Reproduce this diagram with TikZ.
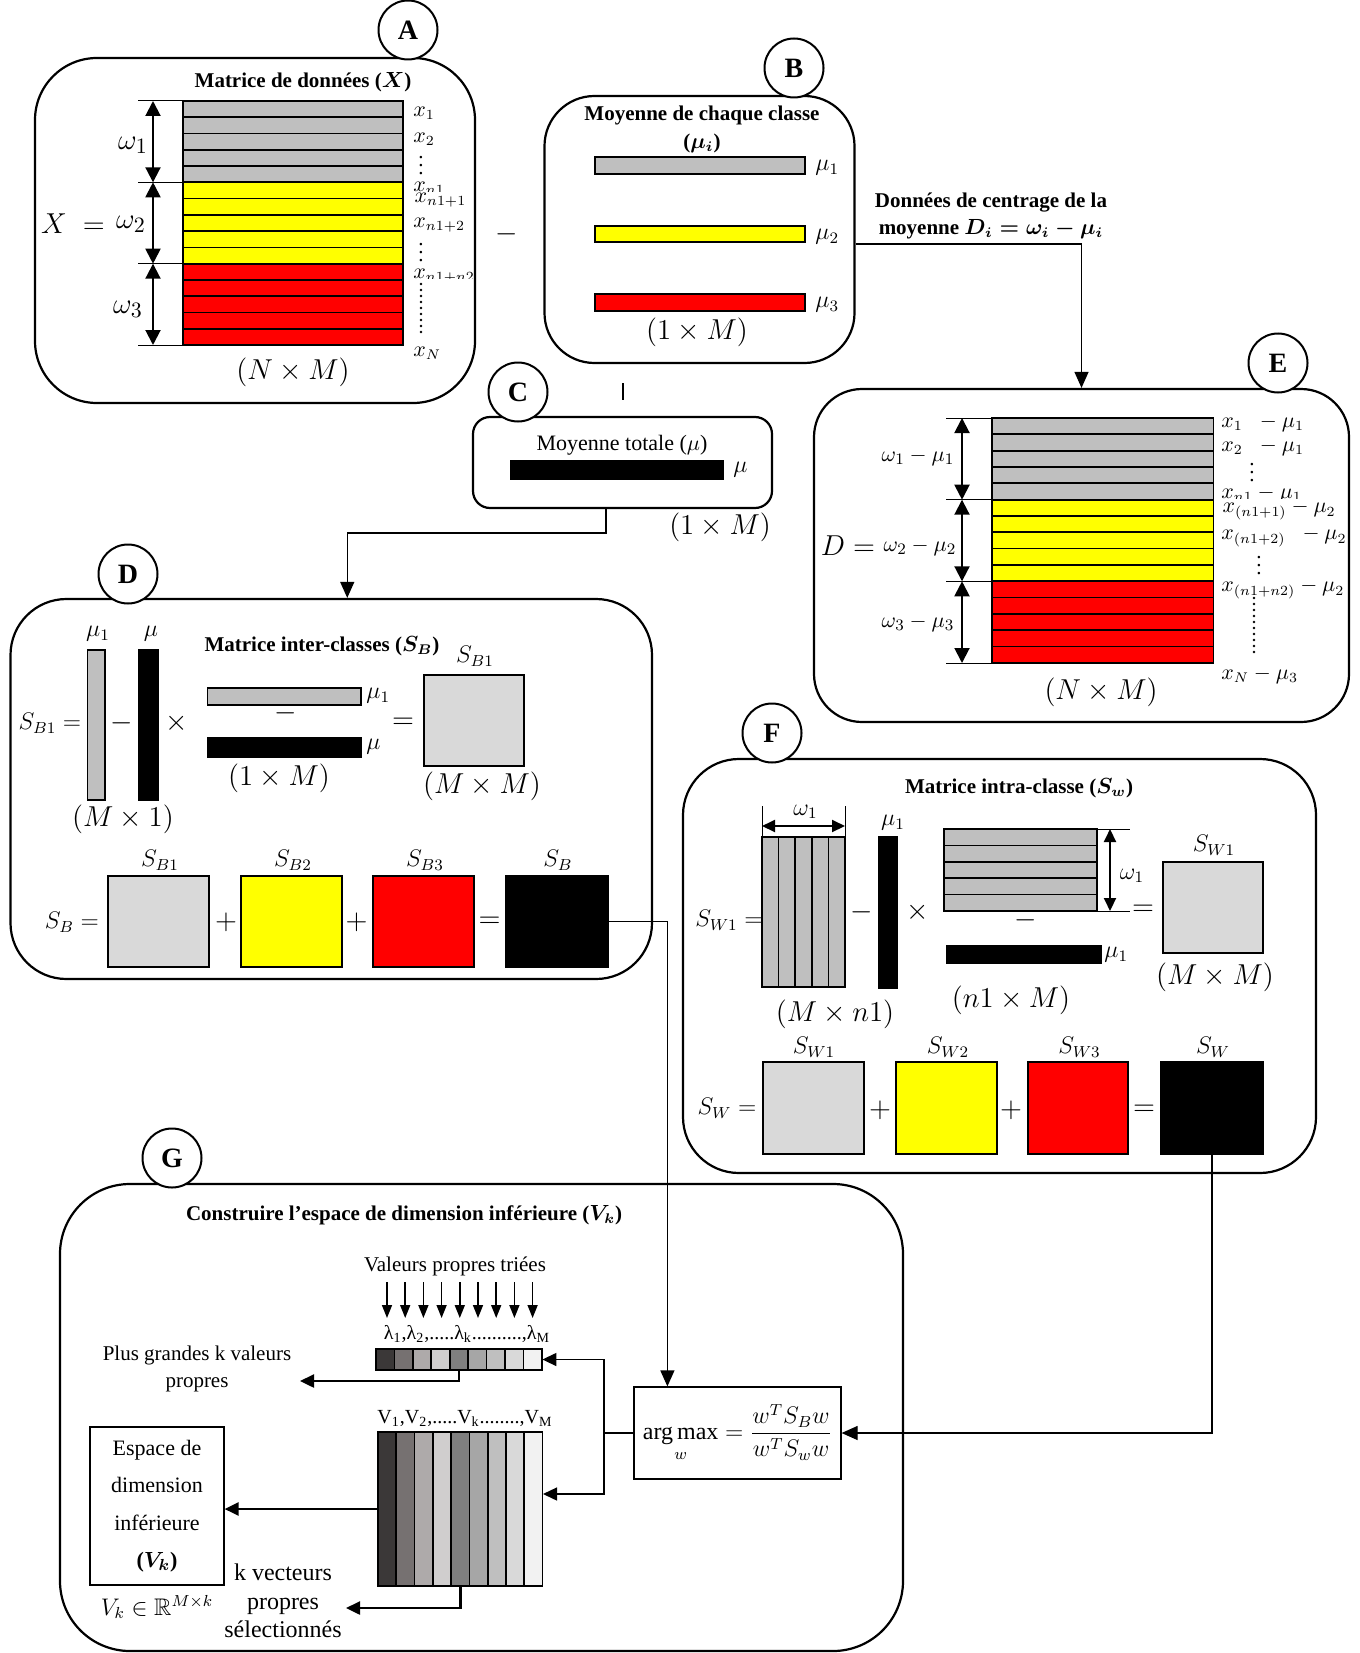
\documentclass[tikz,border=0pt]{standalone}
\usepackage{amsmath,amssymb}
\usepackage[no-math]{fontspec}
\setmainfont{Liberation Serif}
\usetikzlibrary{arrows.meta,fit,calc}

\definecolor{rowgray}{HTML}{BFBFBF}
\definecolor{sqgray}{HTML}{D9D9D9}
\definecolor{ylw}{HTML}{FFFF00}
\definecolor{rd}{HTML}{FF0000}
\definecolor{gA}{HTML}{3B3838}
\definecolor{gB}{HTML}{767171}
\definecolor{gC}{HTML}{AEAAAA}
\definecolor{gD}{HTML}{D0CECE}
\definecolor{gE}{HTML}{7F7F7F}
\definecolor{gF}{HTML}{A6A6A6}
\definecolor{gG}{HTML}{BFBFBF}
\definecolor{gH}{HTML}{D9D9D9}
\definecolor{gI}{HTML}{F2F2F2}

\newcommand\fsz[1]{\fontsize{#1}{#1}\selectfont}

\tikzset{
  panel/.style={draw, line width=1.1pt, rounded corners=#1, inner sep=0pt},
  panel/.default=30pt,
  badge/.style={circle, draw, line width=1pt, fill=white, minimum size=29.5pt, inner sep=0pt, font=\bfseries\fsz{14}},
  ttl/.style={inner sep=0pt, font=\bfseries\boldmath\fsz{10.5}, align=center},
  txt/.style={inner sep=0pt, font=\fsz{10.5}, align=center},
  mXL/.style={inner sep=0pt, font=\fsz{15}},
  mL/.style={inner sep=0pt, font=\fsz{14}},
  mM/.style={inner sep=0pt, font=\fsz{12}},
  mS/.style={inner sep=0pt, font=\fsz{10.5}},
  rowbox/.style={draw, line width=0.85pt},
  sqbox/.style={draw, line width=0.9pt, inner sep=0pt},
  dimline/.style={line width=0.5pt},
  dimarrow/.style={line width=1pt, {Triangle[width=7.5pt,length=7.5pt]}-{Triangle[width=7.5pt,length=7.5pt]}},
  smalldim/.style={line width=1pt, {Triangle[width=6pt,length=6.5pt]}-{Triangle[width=6pt,length=6.5pt]}},
  wire/.style={line width=0.6pt},
  conn/.style={line width=0.6pt, -{Triangle[width=7pt,length=8pt]}},
  gconn/.style={line width=1.2pt, -{Triangle[width=6.5pt,length=7pt]}},
  darrow/.style={line width=0.8pt, -{Triangle[width=5pt,length=6.5pt]}},
}

\begin{document}
\begin{tikzpicture}[x=0.5pt,y=-0.5pt]
\useasboundingbox (0,0) rectangle (1359,1653);

%% ================= A : data matrix
\node[panel=31pt, fit={(35,58) (475,403)}] (Apanel) {};
\node[badge] (Abadge) at (408,30) {A};
\node[ttl] (Atitle) at (303,82) {Matrice de données ($X$)};
\foreach \i in {0,...,4}
  \draw[rowbox, fill=rowgray] (183,{101+16.27*\i}) rectangle (403,{101+16.27*(\i+1)});
\foreach \i in {5,...,9}
  \draw[rowbox, fill=ylw] (183,{101+16.27*\i}) rectangle (403,{101+16.27*(\i+1)});
\foreach \i in {10,...,14}
  \draw[rowbox, fill=rd] (183,{101+16.27*\i}) rectangle (403,{101+16.27*(\i+1)});
\foreach \y in {101,182.3,263.7,345} \draw[dimline] (138,\y) -- (183,\y);
\draw[dimarrow] (153,101) -- (153,182.3);
\draw[dimarrow] (153,182.3) -- (153,263.7);
\draw[dimarrow] (153,263.7) -- (153,345);
\node[mXL] (Aw1) at (133,145) {$\omega_1$};
\node[mXL] (AX) at (73,224) {$X\;=$};
\node[mXL] (Aw2) at (131,224) {$\omega_2$};
\node[mXL] (Aw3) at (128,309) {$\omega_3$};
\node[mS, anchor=west] (Ax1) at (413,113) {$x_1$};
\node[mS, anchor=west] (Ax2) at (413,139) {$x_2$};
\node[mS] (Av1) at (421,160) {$\vdots$};
\node[mS, anchor=west] (Axn1) at (413,188) {$x_{n1}$};
\node[mS, anchor=west, fill=white, inner sep=0.6pt] (Axn11) at (413,200) {$x_{n1+1}$};
\node[mS, anchor=west] (Axn12) at (413,225) {$x_{n1+2}$};
\node[mS] (Av2) at (421,247) {$\vdots$};
\begin{scope}
  \clip (405,255) rectangle (480,278);
  \node[mS, anchor=west] (Axn1n2) at (413,276) {$x_{n1+n2}$};
\end{scope}
\foreach \y in {284,290,...,332} \fill (421,\y) circle (0.7pt);
\node[mS, anchor=west] (AxN) at (413,353) {$x_N$};
\node[mL] (Asize) at (293,372) {$(N\times M)$};

\node[mL] (AminusB) at (507,234) {$-$};

%% ================= B : class means
\node[panel=25pt, fit={(544.5,96) (854.5,363)}] (Bpanel) {};
\node[badge] (Bbadge) at (794,68) {B};
\node[ttl, font=\bfseries\boldmath\fontsize{10.5}{14}\selectfont] (Btitle) at (702,129) {Moyenne de chaque classe\\($\mu_i$)};
\node[sqbox, line width=1.1pt, fill=rowgray, fit={(595,157) (805,174)}] (mua) {};
\node[sqbox, line width=1.1pt, fill=ylw, fit={(595,226) (805,242)}] (mub) {};
\node[sqbox, line width=1.1pt, fill=rd, fit={(595,294) (805,311)}] (muc) {};
\node[mM, anchor=west] (Bmu1) at (815,168) {$\mu_1$};
\node[mM, anchor=west] (Bmu2) at (815,237) {$\mu_2$};
\node[mM, anchor=west] (Bmu3) at (815,305) {$\mu_3$};
\node[mL] (Bsize) at (697,332) {$(1\times M)$};

\node[ttl, font=\bfseries\boldmath\fontsize{10.5}{13.5}\selectfont] (Dlabel) at (991,216) {Données de centrage de la\\moyenne $D_i=\omega_i-\mu_i$};

%% ================= C : overall mean
\node[panel=8.5pt, fit={(473,417) (772,508)}] (Cpanel) {};
\node[badge] (Cbadge) at (518,392) {C};
\node[txt, font=\fsz{11}] (Ctitle) at (622,445) {Moyenne totale ($\mu$)};
\node[sqbox, fill=black, fit={(511,461) (723,479)}] (mubar) {};
\node[mM, anchor=west] (Cmu) at (733,470) {$\mu$};
\node[mL] (Csize) at (720,527) {$(1\times M)$};
\draw[wire] (623,383) -- (623,400);

%% ================= D : between-class scatter
\node[panel=28pt, fit={(10.5,599) (652,979)}] (Dpanel) {};
\node[badge] (Dbadge) at (128,574) {D};
\node[ttl] (Dtitle) at (322,646) {Matrice inter-classes ($S_B$)};
\node[sqbox, fill=rowgray, fit={(87.5,650) (105,800)}] (Dcola) {};
\node[sqbox, fill=black, fit={(139,650) (158,800)}] (Dcolb) {};
\node[mM] (Dmu1) at (98,634) {$\mu_1$};
\node[mM] (Dmu) at (151,634) {$\mu$};
\node[mM] (DSB1eq) at (50,723) {$S_{B1}=$};
\node[mL] (Dminus) at (122,723) {$-$};
\node[mL] (Dtimes) at (177,723) {$\times$};
\node[sqbox, fill=rowgray, fit={(207.5,688) (361,705)}] (Drowa) {};
\node[mL] (Dminusb) at (286,713) {$-$};
\node[sqbox, fill=black, fit={(207.5,738) (361,757)}] (Drowb) {};
\node[mM, anchor=west] (Dmu1b) at (366,696) {$\mu_1$};
\node[mM, anchor=west] (Dmub) at (366,747) {$\mu$};
\node[mL] (Drowsize) at (279,778) {$(1\times M)$};
\node[mL] (Deq) at (403,723) {$=$};
\node[sqbox, fill=sqgray, fit={(424,675) (524,766)}] (SBone) {};
\node[mM] (SBonelab) at (475,656) {$S_{B1}$};
\node[mL] (SBonesize) at (482,786) {$(M\times M)$};
\node[mL] (Dcolsize) at (123,819) {$(M\times 1)$};
\node[mM] (DSBeq) at (72,922) {$S_B=$};
\node[sqbox, fill=sqgray, fit={(108,876) (209,967)}] (SBa) {};
\node[sqbox, fill=ylw, fit={(241,876) (342,967)}] (SBb) {};
\node[sqbox, fill=rd, fit={(373,876) (474,967)}] (SBc) {};
\node[sqbox, fill=black, fit={(506,876) (608,967)}] (SB) {};
\node[mL] (Dplusa) at (226,922) {$+$};
\node[mL] (Dplusb) at (356.5,922) {$+$};
\node[mL] (Deqb) at (489.5,922) {$=$};
\node[mM] (SBalab) at (160,860) {$S_{B1}$};
\node[mM] (SBblab) at (293,860) {$S_{B2}$};
\node[mM] (SBclab) at (425,860) {$S_{B3}$};
\node[mM] (SBlab) at (558,860) {$S_B$};

%% ================= E : centred data
\node[panel=24pt, fit={(814,389) (1349,722)}] (Epanel) {};
\node[badge] (Ebadge) at (1278,363) {E};
\foreach \i in {0,...,4}
  \draw[rowbox, fill=rowgray] (992,{418+16.33*\i}) rectangle (1213.5,{418+16.33*(\i+1)});
\foreach \i in {5,...,9}
  \draw[rowbox, fill=ylw] (992,{418+16.33*\i}) rectangle (1213.5,{418+16.33*(\i+1)});
\foreach \i in {10,...,14}
  \draw[rowbox, fill=rd] (992,{418+16.33*\i}) rectangle (1213.5,{418+16.33*(\i+1)});
\foreach \y in {418,499.7,581.3,663} \draw[dimline] (946,\y) -- (992,\y);
\draw[dimarrow] (962,418) -- (962,499.7);
\draw[dimarrow] (962,499.7) -- (962,581.3);
\draw[dimarrow] (962,581.3) -- (962,663);
\node[mS, font=\fsz{11}] (Ew1) at (918,457) {$\omega_1-\mu_1$};
\node[mXL] (ED) at (848,546) {$D=$};
\node[mS, font=\fsz{11}] (Ew2) at (920,547) {$\omega_2-\mu_2$};
\node[mS, font=\fsz{11}] (Ew3) at (918,623) {$\omega_3-\mu_3$};
\node[mS, anchor=west] (Ex1) at (1221,423) {$x_1\;\;-\mu_1$};
\node[mS, anchor=west] (Ex2) at (1221,447) {$x_2\;\;-\mu_1$};
\node[mS] (Ev1) at (1252,467) {$\vdots$};
\node[mS, anchor=west] (Exn1) at (1221,494) {$x_{n1}-\mu_1$};
\node[mS, anchor=west, fill=white, inner sep=0.6pt] (Exn11) at (1221,510) {$x_{(n1+1)}-\mu_2$};
\node[mS, anchor=west] (Exn12) at (1221,537) {$x_{(n1+2)}\;\;-\mu_2$};
\node[mS] (Ev2) at (1259,560) {$\vdots$};
\node[mS, anchor=west] (Exn1n2) at (1221,589) {$x_{(n1+n2)}-\mu_2$};
\foreach \y in {598,604,...,652} \fill (1254,\y) circle (0.7pt);
\node[mS, anchor=west] (ExN) at (1221,675) {$x_N-\mu_3$};
\node[mL] (Esize) at (1101,692) {$(N\times M)$};

\draw[conn] ([yshift=-7.25pt]Bpanel.east) -| (Epanel.north);

%% ================= F : within-class scatter
\node[panel=28pt, fit={(683,759) (1316,1173)}] (Fpanel) {};
\node[badge] (Fbadge) at (772,733) {F};
\node[ttl] (Ftitle) at (1019,788) {Matrice intra-classe ($S_w$)};
\foreach \i in {0,...,4}
  \draw[rowbox, fill=rowgray] ({762+16.6*\i},837) rectangle ({762+16.6*(\i+1)},987);
\draw[dimline] (762,806) -- (762,837);
\draw[dimline] (845,806) -- (845,837);
\draw[smalldim] (762,826) -- (845,826);
\node[mM] (Fw1a) at (805.5,812) {$\omega_1$};
\node[mM] (Fmu1a) at (893,823) {$\mu_1$};
\node[sqbox, fill=black, fit={(879,837) (897,988)}] (Fcol) {};
\node[mM] (FSW1eq) at (729,920) {$S_{W1}=$};
\node[mL] (Fminus) at (861.5,912) {$-$};
\node[mL] (Ftimes) at (918,912) {$\times$};
\foreach \i in {0,...,4}
  \draw[rowbox, fill=rowgray] (944,{829+16.4*\i}) rectangle (1097,{829+16.4*(\i+1)});
\draw[dimline] (1097,829) -- (1130,829);
\draw[dimline] (1097,911) -- (1130,911);
\draw[smalldim] (1110,829) -- (1110,911);
\node[mM] (Fw1b) at (1132,876) {$\omega_1$};
\node[mL] (Fminusb) at (1026,920) {$-$};
\node[mL] (Feq) at (1143,910) {$=$};
\node[sqbox, fill=black, fit={(947,946) (1101,963)}] (Frow) {};
\node[mM, anchor=west] (Fmu1b) at (1104,955) {$\mu_1$};
\node[mL] (Frowsize) at (1011,1000) {$(n1\times M)$};
\node[mL] (Fcolsize) at (835,1014) {$(M\times n1)$};
\node[sqbox, fill=sqgray, fit={(1163,862) (1263,953)}] (SWone) {};
\node[mM] (SWonelab) at (1214,845) {$S_{W1}$};
\node[mL] (SWonesize) at (1215,977) {$(M\times M)$};
\node[mM] (FSWeq) at (727,1108) {$S_W=$};
\node[sqbox, fill=sqgray, fit={(762.6,1062) (863.6,1154)}] (SWa) {};
\node[sqbox, fill=ylw, fit={(896,1062) (997,1154)}] (SWb) {};
\node[sqbox, fill=rd, fit={(1028,1062) (1128,1154)}] (SWc) {};
\node[sqbox, fill=black, fit={(1161,1062) (1263,1154)}] (SW) {};
\node[mL] (Fplusa) at (880,1110) {$+$};
\node[mL] (Fplusb) at (1011,1110) {$+$};
\node[mL] (Feqb) at (1144,1110) {$=$};
\node[mM] (SWalab) at (814,1047) {$S_{W1}$};
\node[mM] (SWblab) at (948,1047) {$S_{W2}$};
\node[mM] (SWclab) at (1079.5,1047) {$S_{W3}$};
\node[mM] (SWlab) at (1213,1047) {$S_W$};

%% ================= G : projection space
\node[panel=35pt, fit={(60,1184) (903,1651)}] (Gpanel) {};
\node[badge] (Gbadge) at (172,1158) {G};
\node[ttl] (Gtitle) at (404,1215) {Construire l'espace de dimension inférieure ($V_k$)};
\node[txt] (vpt) at (455,1266) {Valeurs propres triées};
\foreach \i in {0,...,8}
  \draw[darrow] ({387+18.2*\i},1282) -- ({387+18.2*\i},1318);
\node[txt, font=\fsz{10}] (lam) at (467,1334) {λ\textsubscript{1},λ\textsubscript{2},.....λ\textsubscript{k}..........,λ\textsubscript{M}};
\foreach \c [count=\i from 0] in {gA,gB,gC,gD,gE,gF,gG,gH,gI}
  \draw[rowbox, fill=\c] ({376+18.44*\i},1349) rectangle ({376+18.44*(\i+1)},1370);
\node[fit={(376,1349) (542,1370)}, inner sep=0pt] (strip) {};
\node[txt, font=\fontsize{10.5}{13.5}\selectfont] (pgv) at (197,1369) {Plus grandes k valeurs\\propres};
\coordinate (pgIn) at (300,1381);
\draw[gconn] (strip.south) |- (pgIn);

\node[txt, font=\fsz{10}] (vlab) at (465,1418) {V\textsubscript{1},V\textsubscript{2},.....V\textsubscript{k}........,V\textsubscript{M}};
\foreach \c [count=\i from 0] in {gA,gB,gC,gD,gE,gF,gG,gH,gI}
  \draw[rowbox, fill=\c] ({378+18.29*\i},1432) rectangle ({378+18.29*(\i+1)},1586);
\node[fit={(378,1432) (542.6,1586)}, inner sep=0pt] (Vmat) {};

\node[draw, line width=0.6pt, minimum width=67pt, minimum height=79pt, inner sep=0pt, align=center, font=\fontsize{11}{18.75}\selectfont] (esp) at (157,1506) {Espace de\\dimension\\inférieure\\{\bfseries\boldmath($V_k$)}};
\node[mM] (vkin) at (157,1607) {$V_k\in\mathbb{R}^{M\times k}$};
\node[txt, font=\fontsize{12}{14.25}\selectfont] (kvec) at (283,1601) {k vecteurs\\propres\\sélectionnés};
\draw[gconn] (Vmat.west) -- (Vmat.west -| esp.east);
\coordinate (kvIn) at (346,1608);
\draw[gconn] (Vmat.south) |- (kvIn);

\node[draw, line width=0.6pt, minimum width=103.5pt, minimum height=46pt, inner sep=0pt, font=\fsz{12}] (argmax) at (737.5,1433) {$\displaystyle\mathop{\text{arg\,max}}\limits_{w}=\frac{w^{T}S_{B}w}{w^{T}S_{w}w}$};
\coordinate (split) at (604,1433);
\draw[wire] (argmax.west) -- (split);
\draw[gconn, line width=0.7pt] (split) |- (strip.east);
\coordinate (vIn) at ([yshift=7.5pt]Vmat.east);
\draw[gconn, line width=0.7pt] (split) |- (vIn);

%% ================= connectors between panels
\coordinate (cOut) at ([xshift=-8.25pt]Cpanel.south);
\coordinate (cdBend) at (606,533);
\coordinate (dIn) at ([xshift=8pt]Dpanel.north);
\draw[conn] (cOut) -- (cdBend) -| (dIn);
\coordinate (amTop) at ([xshift=17pt]argmax.north west);
\draw[conn] (SB.east) -| (amTop);
\draw[conn] (SW.south) |- (argmax.east);

\end{tikzpicture}
\end{document}
